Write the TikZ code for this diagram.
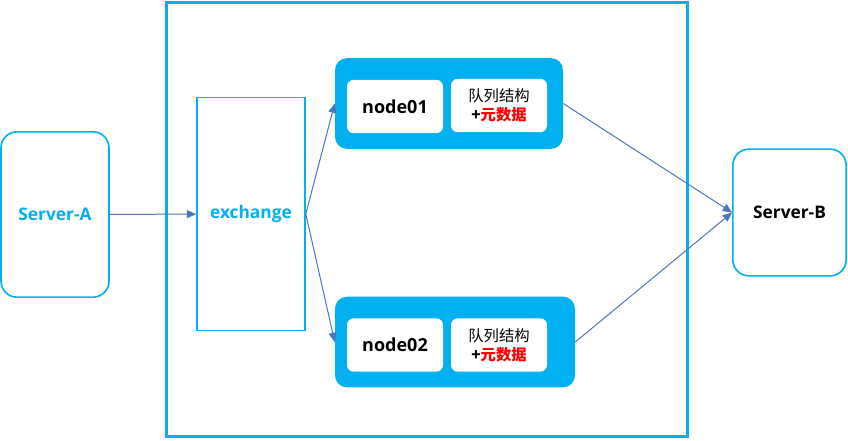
\documentclass[tikz,border=0pt]{standalone}
\usepackage{fontspec}
\setmainfont{Open Sans}
\newfontfamily\cjk{Noto Sans CJK SC}
\usetikzlibrary{arrows.meta}

\definecolor{skyblue}{HTML}{00B0F0}
\definecolor{linkblue}{HTML}{4A76BD}

\begin{document}
\begin{tikzpicture}[x=0.75pt,y=-0.75pt,
    server/.style={draw=skyblue, line width=1.2pt, rounded corners=12pt, inner sep=0pt, font=\bfseries\fontsize{13}{15}\selectfont},
    exbox/.style={draw=skyblue, line width=1.2pt, inner sep=0pt, text=skyblue, font=\bfseries\fontsize{13}{15}\selectfont},
    queue/.style={fill=skyblue, rounded corners=9pt, inner sep=0pt},
    cell/.style={fill=white, rounded corners=5pt, inner sep=0pt, minimum width=72pt, minimum height=40pt, align=center},
    link/.style={draw=linkblue, line width=0.75pt, -{Triangle[length=7pt,width=6pt]}}]
        \useasboundingbox (0,0) rectangle (848,440);
        % outer frame
        \node[draw=skyblue, line width=2.3pt, minimum width=391pt, minimum height=326pt, inner sep=0pt] (cluster) at (427,219.5) {};
        \node[server, text=skyblue, minimum width=81pt, minimum height=124pt] (srva) at (55,214.5) {Server-A};
        \node[exbox, minimum width=81pt, minimum height=175pt] (exch) at (251,214) {exchange};
        \node[server, text=black, minimum width=85pt, minimum height=95pt] (srvb) at (789.5,212.5) {Server-B};
        % queue node 1
        \node[queue, minimum width=171pt, minimum height=68pt] (q1) at (449,103.5) {};
        \node[cell, font=\bfseries\fontsize{13.5}{15}\selectfont] (n1) at (395,106.5) {node01};
        \node[cell, font=\cjk\fontsize{11.5}{14.5}\selectfont] (m1) at (499,105.5) {队列结构\\\textbf{+\textcolor{red}{元数据}}};
        % queue node 2
        \node[queue, minimum width=180pt, minimum height=68pt] (q2) at (455,342) {};
        \node[cell, font=\bfseries\fontsize{13.5}{15}\selectfont] (n2) at (395,345) {node02};
        \node[cell, font=\cjk\fontsize{11.5}{14.5}\selectfont] (m2) at (499,345) {队列结构\\\textbf{+\textcolor{red}{元数据}}};
        \draw[link] (srva) -- (exch);
        \draw[link] (exch.east) -- (q1.west);
        \draw[link] (exch.east) -- (q2.west);
        \draw[link] (q1.east) -- (srvb.west);
        \draw[link] (q2.east) -- (srvb.west);
\end{tikzpicture}
\end{document}
